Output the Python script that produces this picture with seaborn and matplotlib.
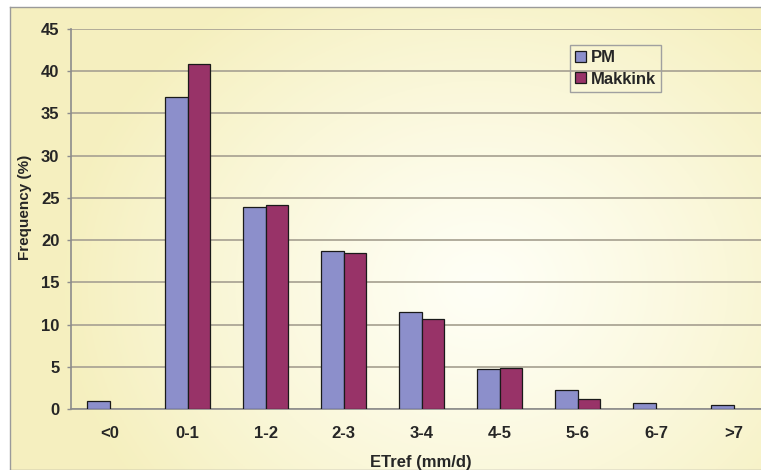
import numpy as np
import pandas as pd
import matplotlib
matplotlib.use("Agg")
import matplotlib.pyplot as plt
from matplotlib.patches import Patch
from matplotlib import font_manager
import seaborn as sns

# ---- data ----
categories = ['<0', '0-1', '1-2', '2-3', '3-4', '4-5', '5-6', '6-7', '>7']
pm_values = [0.95, 37.0, 23.9, 18.75, 11.5, 4.7, 2.25, 0.75, 0.45]
makkink_values = [np.nan, 40.8, 24.2, 18.5, 10.7, 4.9, 1.2, np.nan, np.nan]
series_names = ['PM', 'Makkink']
y_ticks = [0, 5, 10, 15, 20, 25, 30, 35, 40, 45]

df = pd.DataFrame({
    'cat': categories * 2,
    'value': pm_values + makkink_values,
    'series': [series_names[0]] * len(categories) + [series_names[1]] * len(categories),
})

sns.set_theme(style='white')
plt.rcParams['font.family'] = ['Liberation Sans', 'DejaVu Sans']

try:
    font_manager.findfont(font_manager.FontProperties(family='Liberation Sans Narrow'),
                          fallback_to_default=False)
    has_narrow = True
except Exception:
    has_narrow = False
narrow = ['Liberation Sans Narrow', 'Liberation Sans', 'DejaVu Sans'] if has_narrow \
    else ['Liberation Sans', 'DejaVu Sans']

W, H = 761, 470
fig = plt.figure(figsize=(W / 100, H / 100), dpi=100)
fig.patch.set_facecolor('white')

# background frame with soft gradient
bg = fig.add_axes([10 / W, 0, 1 - 10 / W + 0.01, 1 - 7 / H])
ny, nx = 240, 400
yy, xx = np.mgrid[0:ny, 0:nx]
cx, cy = 0.62 * nx, 0.60 * ny
d = np.sqrt(((xx - cx) / (0.55 * nx)) ** 2 + ((yy - cy) / (0.75 * ny)) ** 2)
t = np.clip(d, 0, 1) ** 1.2
edge = np.array([0.963, 0.941, 0.75])
center = np.array([1.0, 1.0, 0.965])
img = center[None, None, :] * (1 - t[..., None]) + edge[None, None, :] * t[..., None]
bg.imshow(img, aspect='auto', extent=[0, 1, 0, 1], origin='upper')
bg.set_xlim(0, 1)
bg.set_ylim(0, 1)
bg.set_xticks([])
bg.set_yticks([])
for s in bg.spines.values():
    s.set_color('#9a9a9a')
    s.set_linewidth(1.0)

# main axes
left, right = 70.5 / W, 773 / W
bottom, top = (H - 409) / H, (H - 29) / H
ax = fig.add_axes([left, bottom, right - left, top - bottom])
ax.set_facecolor('none')

sns.barplot(data=df, x='cat', y='value', hue='series', order=categories,
            hue_order=series_names, palette=['#8c8fcb', '#983368'],
            width=0.58, saturation=1, edgecolor='#1a1a1a', linewidth=0.9,
            ax=ax, legend=False, zorder=3)

ax.set_ylim(0, 45)
ax.set_xlim(-0.5, len(categories) - 0.5)
ax.set_yticks(y_ticks)
ax.set_yticklabels([str(v) for v in y_ticks], fontsize=12, fontweight='bold')
ax.set_xticks(range(len(categories)))
ax.set_xticklabels(categories, fontsize=12, fontweight='bold', family=narrow)
ax.set_xticks(np.arange(-0.5, len(categories) - 0.4, 1.0), minor=True)
ax.tick_params(axis='x', which='major', length=0, pad=12)
ax.tick_params(axis='x', which='minor', length=4, width=1.0, color='#8c8c8c', direction='out')
ax.tick_params(axis='y', which='major', length=3, width=1.0, color='#8c8c8c',
               direction='out', pad=5, left=True)

ax.grid(axis='y', color='#aca696', linewidth=1.3, zorder=0)
ax.set_axisbelow(True)
for s in ['top', 'right']:
    ax.spines[s].set_visible(False)
for s in ['left', 'bottom']:
    ax.spines[s].set_color('#8c8c8c')
    ax.spines[s].set_linewidth(1.2)

ax_h = 409 - 29
ax_w = 773 - 70.5
ax.set_xlabel('ETref (mm/d)', fontsize=12, fontweight='bold', family=narrow)
ax.xaxis.set_label_coords((421 - 70.5) / ax_w, -(463 - 409) / ax_h)
ax.xaxis.label.set_va('center')
ax.set_ylabel('Frequency (%)', fontsize=11, fontweight='bold')
ax.yaxis.set_label_coords(-(70.5 - 25) / ax_w, (409 - 207) / ax_h)
ax.yaxis.label.set_va('center')

handles = [Patch(facecolor='#8c8fcb', edgecolor='#1a1a1a', linewidth=0.9),
           Patch(facecolor='#983368', edgecolor='#1a1a1a', linewidth=0.9)]
leg = ax.legend(handles, series_names, loc='upper left',
                bbox_to_anchor=(570 / W, 1 - 45 / H), bbox_transform=fig.transFigure,
                borderaxespad=0, frameon=True, fancybox=False, framealpha=1,
                facecolor='none', edgecolor='#a0a0a0', handlelength=0.65,
                handleheight=0.65, handletextpad=0.3, labelspacing=0.4,
                borderpad=0.3, prop={'weight': 'bold', 'size': 12})
leg.get_frame().set_linewidth(1.0)

fig.savefig('out.png', dpi=100)
